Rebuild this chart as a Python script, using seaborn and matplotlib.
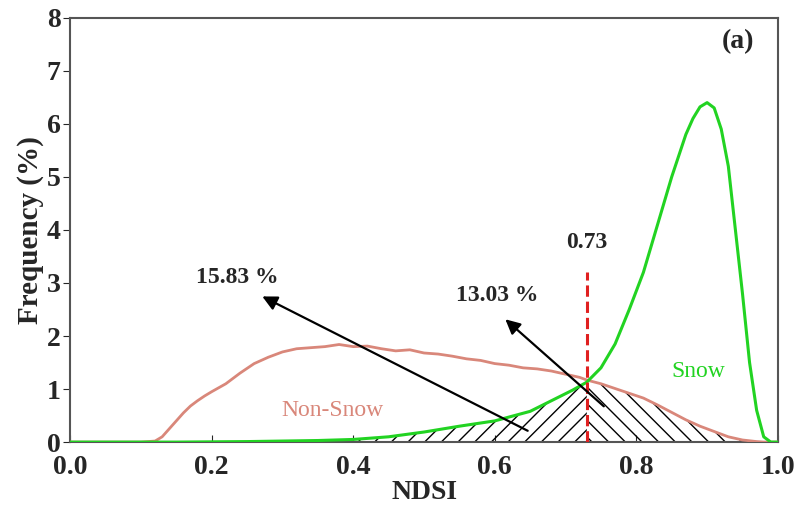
import numpy as np
import pandas as pnd
import seaborn as sns
import matplotlib.pyplot as plt

# NDSI frequency curves
nonsnow_x = [0.00, 0.10, 0.12, 0.13, 0.14, 0.15, 0.16, 0.17, 0.18, 0.19, 0.20, 0.22, 0.24, 0.26,
             0.28, 0.30, 0.32, 0.34, 0.36, 0.38, 0.40, 0.42, 0.44, 0.46, 0.48, 0.50, 0.52, 0.54,
             0.56, 0.58, 0.60, 0.62, 0.64, 0.66, 0.68, 0.70, 0.72, 0.73, 0.75, 0.77, 0.79, 0.81,
             0.83, 0.85, 0.87, 0.89, 0.91, 0.93, 0.95, 0.97, 0.98, 1.00]
nonsnow_y = [0.00, 0.00, 0.02, 0.10, 0.25, 0.40, 0.55, 0.68, 0.78, 0.87, 0.95, 1.10, 1.30, 1.48,
             1.60, 1.70, 1.76, 1.78, 1.80, 1.84, 1.80, 1.81, 1.76, 1.72, 1.74, 1.68, 1.66, 1.62,
             1.57, 1.54, 1.48, 1.45, 1.40, 1.38, 1.34, 1.28, 1.22, 1.17, 1.10, 1.01, 0.92, 0.83,
             0.70, 0.56, 0.42, 0.30, 0.20, 0.10, 0.04, 0.01, 0.00, 0.00]

snow_x = [0.00, 0.10, 0.15, 0.20, 0.25, 0.30, 0.35, 0.40, 0.45, 0.50, 0.55, 0.60, 0.65, 0.68,
          0.71, 0.73, 0.75, 0.77, 0.79, 0.81, 0.83, 0.85, 0.87, 0.88, 0.89, 0.90, 0.91, 0.92,
          0.93, 0.94, 0.95, 0.96, 0.97, 0.98, 0.99, 1.00]
snow_y = [0.00, 0.00, 0.00, 0.005, 0.01, 0.02, 0.03, 0.05, 0.10, 0.19, 0.30, 0.40, 0.58, 0.78,
          0.98, 1.13, 1.40, 1.85, 2.50, 3.20, 4.10, 5.00, 5.80, 6.10, 6.32, 6.40, 6.30, 5.90,
          5.20, 4.00, 2.80, 1.50, 0.60, 0.10, 0.00, 0.00]

threshold = 0.73
pct_snow_missed = "15.83 %"
pct_nonsnow_wrong = "13.03 %"

ns_col = "#d9877a"
sn_col = "#22d322"

sns.set_style("ticks")
plt.rcParams['font.family'] = ['Liberation Serif', 'DejaVu Serif']
plt.rcParams['hatch.linewidth'] = 1.0

fig, ax = plt.subplots(figsize=(7.97, 5.07), dpi=100)
fig.subplots_adjust(left=0.088, right=0.976, top=0.965, bottom=0.128)

nsx = np.array(nonsnow_x)
nsy = np.array(nonsnow_y)
sx = np.array(snow_x)
sy = np.array(snow_y)

# hatched misclassified areas
ax.fill_between(sx, 0, sy, where=(sx >= 0.3) & (sx <= threshold), facecolor='none',
                edgecolor='black', hatch='//', linewidth=0, zorder=1)
ax.fill_between(nsx, 0, nsy, where=(nsx >= threshold) & (nsx <= 0.97), facecolor='none',
                edgecolor='black', hatch='\\\\', linewidth=0, zorder=1)

sns.lineplot(x=nonsnow_x, y=nonsnow_y, ax=ax, color=ns_col, linewidth=2.0, zorder=3)
sns.lineplot(x=snow_x, y=snow_y, ax=ax, color=sn_col, linewidth=2.2, zorder=3)

ax.plot([threshold, threshold], [0, 3.2], color='#e02020', linestyle='--', linewidth=2.2, zorder=4)
ax.text(threshold, 3.77, "0.73", ha='center', va='center', fontsize=17, fontweight='bold')

ax.annotate("", xy=(0.268, 2.77), xytext=(0.65, 0.19),
            arrowprops=dict(arrowstyle='-|>', color='black', lw=1.6, mutation_scale=22), zorder=5)
ax.annotate("", xy=(0.612, 2.35), xytext=(0.757, 0.64),
            arrowprops=dict(arrowstyle='-|>', color='black', lw=1.6, mutation_scale=22), zorder=5)
ax.text(0.236, 3.1, pct_snow_missed, ha='center', va='center', fontsize=17, fontweight='bold')
ax.text(0.603, 2.77, pct_nonsnow_wrong, ha='center', va='center', fontsize=17, fontweight='bold')

ax.text(0.37, 0.6, "Non-Snow", color=ns_col, ha='center', va='center', fontsize=17)
ax.text(0.888, 1.33, "Snow", color=sn_col, ha='center', va='center', fontsize=17)
ax.text(0.943, 7.55, "(a)", ha='center', va='center', fontsize=20, fontweight='bold')

ax.set_xlim(0, 1.0)
ax.set_ylim(0, 8)
ax.set_xticks([0.0, 0.2, 0.4, 0.6, 0.8, 1.0])
ax.set_yticks(range(0, 9))
ax.set_xticklabels(["0.0", "0.2", "0.4", "0.6", "0.8", "1.0"], fontsize=20, fontweight='bold')
ax.set_yticklabels([str(v) for v in range(0, 9)], fontsize=20, fontweight='bold')
ax.tick_params(axis='x', direction='in', length=5, pad=9)
ax.tick_params(axis='y', direction='out', length=5, pad=2)
ax.set_xlabel("NDSI", fontsize=20, fontweight='bold', labelpad=0)
ax.set_ylabel("Frequency (%)", fontsize=21, fontweight='bold', labelpad=2)

for sp in ax.spines.values():
    sp.set_color('#555555')
    sp.set_linewidth(1.5)
    sp.set_visible(True)

fig.savefig("out.png", dpi=100)
